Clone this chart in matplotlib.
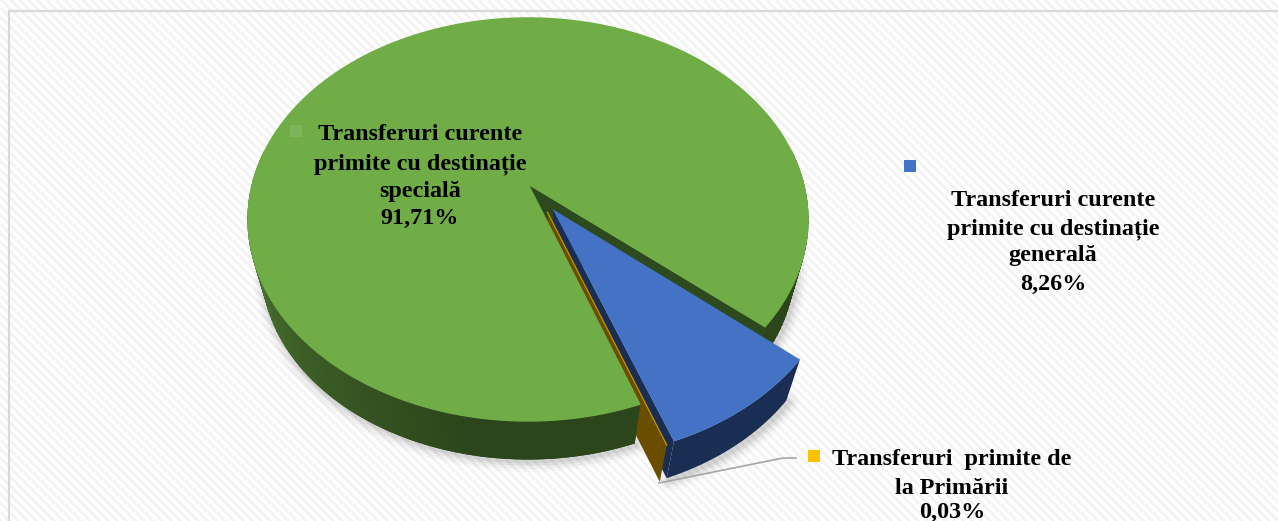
import numpy as np
from matplotlib import pyplot as plt
from matplotlib.colors import to_rgb
from matplotlib.patches import Polygon

categorii = ['Transferuri curente\nprimite cu destinație\nspecială',
             'Transferuri curente\nprimite cu destinație\ngenerală',
             'Transferuri  primite de\nla Primării']
valori = [91.71, 8.26, 0.03]
etichete = ['91,71%', '8,26%', '0,03%']
culori = ['#70ad47', '#4472c4', '#ffc000']

# geometria discului (pixeli), perspectiva estimata din imagine
CX, CY = 528, 184
A, B, P = 275.6, 195.3, 0.176
VP_Y, SCALA = 1180, 0.95
START = 70.2
EXPLODE = 0.157
DIR_GALBEN = 64

fig = plt.figure(figsize=(12.78, 5.21), dpi=100)
ax = fig.add_axes([0, 0, 1, 1])
ax.set_xlim(0, 1278)
ax.set_ylim(521, 0)
ax.axis('off')

# fundal cu dungi diagonale
yy, xx = np.mgrid[0:521, 0:1278]
fundal = np.where((xx - yy) % 9 < 4, 0.955, 1.0)
ax.imshow(fundal, cmap='gray', vmin=0, vmax=1, extent=(0, 1278, 521, 0),
          aspect='auto', interpolation='nearest', zorder=0)
ax.plot([9, 9], [521, 11], color='#d9d9d9', lw=1.6, zorder=1)
ax.plot([9, 1278], [11, 11], color='#d9d9d9', lw=1.6, zorder=1)


def sus(X, Y):
    w = 1 - P * Y
    return np.column_stack([CX + A * X / w, CY + B * Y / w])


def jos(pts):
    pts = np.asarray(pts, dtype=float)
    return np.column_stack([CX + SCALA * (pts[:, 0] - CX),
                            VP_Y + SCALA * (pts[:, 1] - VP_Y)])


def arc(a1, a2, dx=0.0, dy=0.0, n=200):
    t = np.radians(np.linspace(a1, a2, n))
    return sus(np.cos(t) + dx, np.sin(t) + dy)


def felie(a1, a2, dx=0.0, dy=0.0):
    centru = sus(np.array([dx]), np.array([dy]))
    return np.vstack([centru, arc(a1, a2, dx, dy)])


def perete(a, dx=0.0, dy=0.0):
    fata = felie(a, a, dx, dy)[[0, 1]]
    return np.vstack([fata, jos(fata)[::-1]])


def amesteca(c1, c2, f):
    c1 = np.array(to_rgb(c1))
    c2 = np.array(to_rgb(c2))
    return c1 + (c2 - c1) * f


def lateral(a1, a2, dx, dy, culoare_fn, z):
    pas = np.linspace(a1, a2, max(int((a2 - a1) / 1.5) + 2, 2))
    for u, v in zip(pas[:-1], pas[1:]):
        top = arc(u, v, dx, dy, n=4)
        poly = np.vstack([top, jos(top)[::-1]])
        c = culoare_fn(0.5 * (u + v))
        ax.add_patch(Polygon(poly, closed=True, fc=c, ec=c, lw=0.8, zorder=z))


def verde_lateral(a):
    # mai deschis spre stanga, inchis in fata si in dreapta
    f = np.clip((a - 100) / 85, 0, 1)
    if a > 300:
        f = 0
    return amesteca('#2c451b', '#527f35', f)


# unghiurile feliilor, din valori
unghiuri = START + np.concatenate([[0], np.cumsum(valori)]) * 3.6 / (sum(valori) / 100)
a_verde = (unghiuri[0], unghiuri[1])
a_albastru = (unghiuri[1], unghiuri[2])
a_galben = (unghiuri[2], unghiuri[3])

m = np.radians(0.5 * (a_albastru[0] + a_albastru[1]))
dx_b, dy_b = EXPLODE * np.cos(m), EXPLODE * np.sin(m)
m = np.radians(DIR_GALBEN)
dx_g, dy_g = EXPLODE * np.cos(m), EXPLODE * np.sin(m)

# umbra
baza_verde = jos(arc(*a_verde))
top_alb = arc(*a_albastru, dx_b, dy_b)
baza_alb = jos(top_alb)
for lw, alfa in [(22, 0.025), (16, 0.035), (10, 0.05), (5, 0.06)]:
    for contur in (baza_verde, baza_alb):
        ax.plot(contur[:, 0] + 2, contur[:, 1] + 2, color='black', lw=lw * 0.72,
                alpha=alfa, solid_capstyle='round', zorder=2)

# felia verde: doar lateralul vizibil (fara spate) si peretele din spate
lateral(a_verde[0], 190, 0, 0, verde_lateral, 3)
lateral(350, a_verde[1], 0, 0, verde_lateral, 3)
ax.add_patch(Polygon(perete(a_verde[1]), closed=True, fc='#2d4a1e', ec='none', zorder=3))

# felia albastra
ax.add_patch(Polygon(np.vstack([top_alb, baza_alb[::-1]]), closed=True, fc='#1a2d52', ec='none', zorder=4))
ax.add_patch(Polygon(perete(a_albastru[1], dx_b, dy_b), closed=True, fc='#1a2d52', ec='none', zorder=4))
ax.add_patch(Polygon(felie(*a_albastru, dx_b, dy_b), closed=True, fc=culori[1], ec=culori[1], lw=0.3, zorder=5))

# felia galbena, practic doar peretele
ax.add_patch(Polygon(perete(a_galben[1], dx_g, dy_g), closed=True, fc='#6b4d00', ec='none', zorder=6))
linie = felie(a_galben[1], a_galben[1], dx_g, dy_g)[[0, 1]]
ax.plot(linie[:, 0], linie[:, 1], color='#c79500', lw=0.9, zorder=7)

# partea din fata a feliei verzi si fata de sus
lateral(a_verde[0], 190, 0, 0, verde_lateral, 8)
ax.add_patch(Polygon(felie(*a_verde), closed=True, fc=culori[0], ec=culori[0], lw=1.0, zorder=9))

# linia de ghidaj
ax.plot([659, 783, 796], [483, 458, 458], color='#a6a6a6', lw=1.2, zorder=10)

# etichete
font = dict(family='Liberation Serif', fontweight='bold', fontsize=17.4, ha='center',
            va='center', color='black', zorder=12, linespacing=1.0)
pozitii = [(420, [135, 164, 191, 218]), (1053, [200, 229, 256, 284]), (952, [460, 488, 512])]
for cat, et, (x, ys) in zip(categorii, etichete, pozitii):
    rows = cat.split('\n') + [et]
    for r, y in zip(rows, ys):
        ax.text(x, y, r, clip_on=True, **font)

# markerele din legenda etichetelor
ax.scatter([296, 910, 814], [131, 166, 456], marker='s', s=85, linewidths=0,
           c=['#7db65a', culori[1], culori[2]], zorder=11)

fig.savefig('out.png', dpi=100)
